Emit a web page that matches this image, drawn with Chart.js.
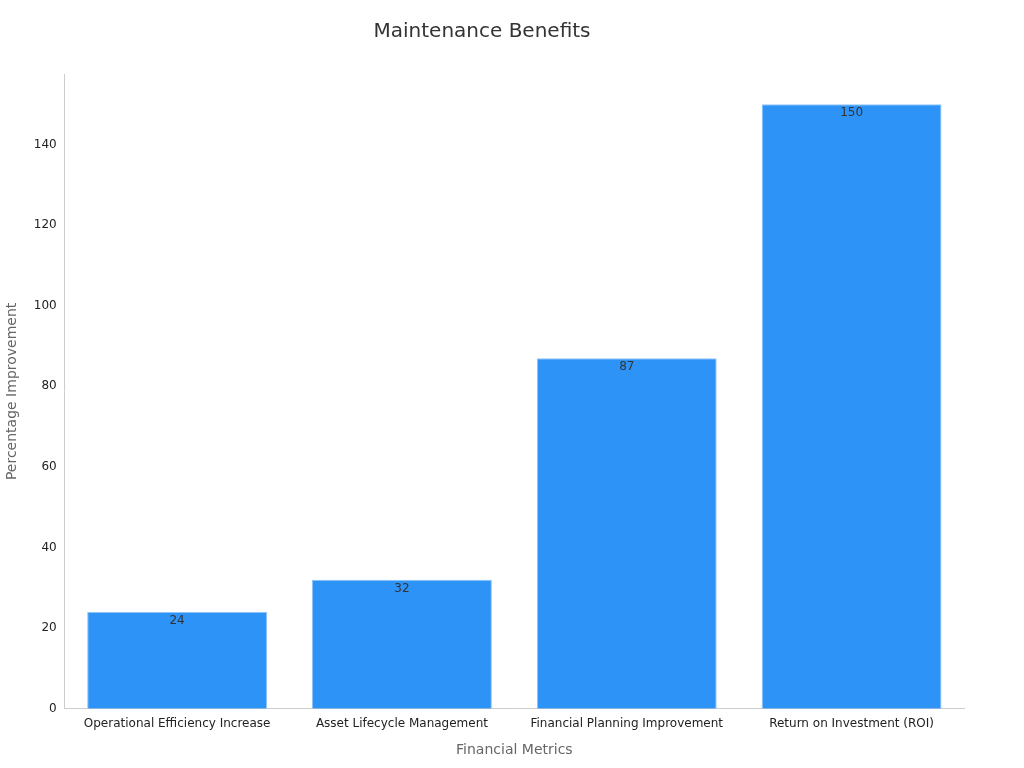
<!DOCTYPE html>
<html>
<head>
<meta charset="utf-8">
<script src="https://cdn.jsdelivr.net/npm/chart.js@4"></script>
<style>
  html, body { margin: 0; padding: 0; background: #fff; }
  #wrap { width: 1024px; height: 768px; }
</style>
</head>
<body>
<div id="wrap"><canvas id="chart" width="1024" height="768"></canvas></div>
<script>
/* -------- DATA -------- */
const categories = [
    "Operational Efficiency Increase",
    "Asset Lifecycle Management",
    "Financial Planning Improvement",
    "Return on Investment (ROI)"
];
const improvementValues = [24, 32, 87, 150];
const yTicks = [0, 20, 40, 60, 80, 100, 120, 140];

/* -------- PLUGINS -------- */
// Draw each value just inside the top of its bar
const barValueLabels = {
    id: "barValueLabels",
    afterDatasetsDraw(chart) {
        const ctx = chart.ctx;
        const meta = chart.getDatasetMeta(0);
        ctx.save();
        ctx.font = "12px 'DejaVu Sans'";
        ctx.fillStyle = "#333";
        ctx.textAlign = "center";
        ctx.textBaseline = "top";
        meta.data.forEach((bar, i) => {
            ctx.fillText(String(improvementValues[i]), bar.x, bar.y + 3);
        });
        ctx.restore();
    }
};

/* -------- PROGRAM START -------- */
new Chart(document.getElementById("chart").getContext("2d"), {
    type: "bar",
    data: {
        labels: categories,
        datasets: [{
            data: improvementValues,
            backgroundColor: "#2e93f7",
            borderColor: "#8cc4fa",
            borderWidth: 1,
            barPercentage: 0.8,
            categoryPercentage: 1.0
        }]
    },
    options: {
        responsive: false,
        animation: false,
        layout: { padding: { top: 10, right: 60, left: 0, bottom: 5 } },
        plugins: {
            legend: { display: false },
            tooltip: { enabled: false },
            title: {
                display: true,
                text: "Maintenance Benefits",
                color: "#333",
                font: { family: "'DejaVu Sans'", size: 20, weight: "normal" },
                padding: { top: 10, bottom: 30 }
            }
        },
        scales: {
            x: {
                grid: { display: false, drawTicks: true, tickLength: 5 },
                border: { color: "#ccc" },
                ticks: { color: "#222", font: { family: "'DejaVu Sans'", size: 12 } },
                title: {
                    display: true,
                    text: "Financial Metrics",
                    color: "#666",
                    font: { family: "'DejaVu Sans'", size: 14 },
                    padding: { top: 8 }
                }
            },
            y: {
                min: 0,
                max: 157.5,
                afterBuildTicks(axis) {
                    axis.ticks = yTicks.map(v => ({ value: v }));
                },
                grid: { display: false, drawTicks: true, tickLength: 5 },
                border: { color: "#ccc" },
                ticks: { color: "#222", font: { family: "'DejaVu Sans'", size: 12 } },
                title: {
                    display: true,
                    text: "Percentage Improvement",
                    color: "#666",
                    font: { family: "'DejaVu Sans'", size: 14 },
                    padding: { bottom: 10 }
                }
            }
        }
    },
    plugins: [barValueLabels]
});
</script>
</body>
</html>
